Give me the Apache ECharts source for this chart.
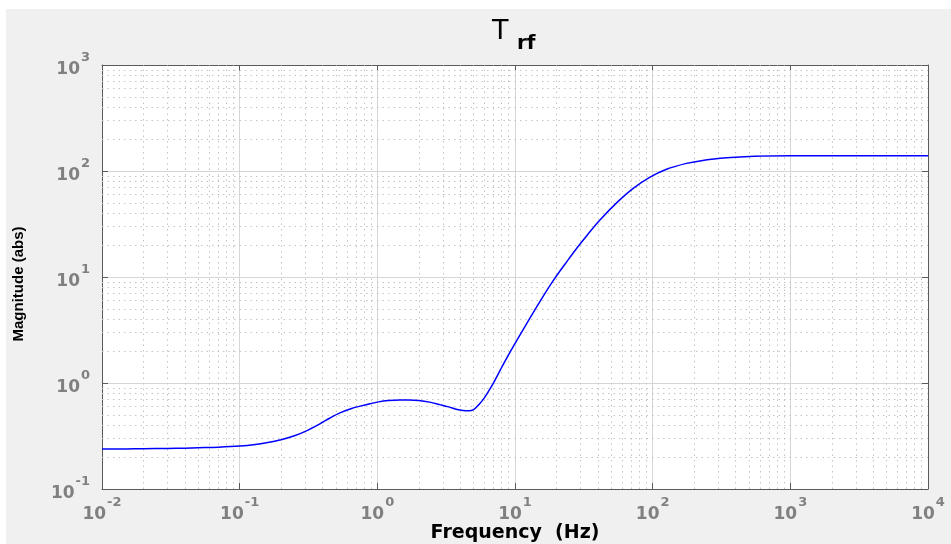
<!DOCTYPE html>
<html><head><meta charset="utf-8">
<script src="https://cdn.jsdelivr.net/npm/echarts@6/dist/echarts.min.js"></script>
<style>
html,body{margin:0;padding:0;background:#fff;}
#bg{position:absolute;left:6px;top:9px;width:945px;height:535px;background:#f0f0f0;}
#chart{position:absolute;left:0;top:0;width:951px;height:544px;}
</style></head><body>
<div id="bg"></div><div id="chart"></div>
<script>
const frequencyHz = [0.01, 0.015, 0.02, 0.03, 0.04, 0.05, 0.07, 0.1, 0.13, 0.16, 0.2, 0.25, 0.3, 0.38, 0.45, 0.53, 0.65, 0.75, 0.87, 1.0, 1.2, 1.45, 1.7, 2.0, 2.4, 2.85, 3.3, 3.8, 4.2, 4.6, 5.0, 5.4, 5.9, 6.4, 7.0, 8.2, 9.7, 12.1, 15.2, 18.9, 24.3, 28, 34, 41.4, 54.7, 72.2, 95, 126, 176, 220, 344, 550, 1000, 2000, 5000, 10000];
const magnitudeAbs = [0.238, 0.239, 0.240, 0.241, 0.243, 0.245, 0.248, 0.254, 0.263, 0.275, 0.292, 0.318, 0.35, 0.41, 0.465, 0.52, 0.575, 0.605, 0.635, 0.66, 0.683, 0.693, 0.693, 0.685, 0.66, 0.625, 0.595, 0.562, 0.55, 0.547, 0.56, 0.615, 0.705, 0.83, 1.01, 1.49, 2.2, 3.6, 5.9, 9.2, 14.5, 18.6, 25.5, 34.5, 50, 68.5, 87, 104, 118, 124.5, 133, 137.5, 139, 139, 139, 139];
const xTickExponents = [-2, -1, 0, 1, 2, 3, 4];
const yTickExponents = [-1, 0, 1, 2, 3];
const titleMain = 'T';
const titleSub = 'rf';
const xName = 'Frequency  (Hz)';
const yName = 'Magnitude (abs)';

function minorValues(exps) {
  const out = [];
  for (let i = 0; i < exps.length - 1; i++) {
    for (let k = 2; k <= 9; k++) out.push(Number((k * Math.pow(10, exps[i])).toPrecision(3)));
  }
  return out;
}
function powLabel(exps) {
  return function (v) {
    const e = Math.round(Math.log10(v));
    if (exps.indexOf(e) < 0) return '';
    return '{b|10}{e|' + e + '}';
  };
}
const labelRich = {
  b: { fontFamily: 'DejaVu Sans', fontWeight: 'bold', fontSize: 17, color: '#808080', lineHeight: 27, verticalAlign: 'bottom' },
  e: { fontFamily: 'DejaVu Sans', fontWeight: 'bold', fontSize: 13, color: '#808080', lineHeight: 13, verticalAlign: 'top', padding: [0, 0, 0, 1] }
};
const axisColor = '#5a5a5a';
const xMin = Math.pow(10, xTickExponents[0]), xMax = Math.pow(10, xTickExponents[xTickExponents.length - 1]);
const yMin = Math.pow(10, yTickExponents[0]), yMax = Math.pow(10, yTickExponents[yTickExponents.length - 1]);

const chart = echarts.init(document.getElementById('chart'));
chart.setOption({
  animation: false,
  backgroundColor: 'transparent',
  title: [{
    text: titleMain, left: 487, top: 13,
    textStyle: { fontFamily: 'DejaVu Sans', fontWeight: 'normal', fontSize: 27, color: '#000' }
  }, {
    text: titleSub, left: 512, top: 29,
    textStyle: { fontFamily: 'DejaVu Sans', fontWeight: 'bold', fontSize: 20, color: '#000' }
  }],
  grid: { left: 102, right: 23, top: 65, bottom: 55, show: true, backgroundColor: '#ffffff', borderWidth: 0, containLabel: false, outerBoundsMode: 'none' },
  xAxis: [{
    type: 'log', logBase: 10, min: xMin, max: xMax, splitNumber: 6,
    name: xName, nameLocation: 'middle', nameGap: 35, nameMoveOverlap: false,
    nameTextStyle: { fontFamily: 'DejaVu Sans', fontWeight: 'bold', fontSize: 19, color: '#000' },
    axisLine: { show: true, onZero: false, lineStyle: { color: axisColor, width: 1 } },
    axisTick: { show: true, inside: true, length: 6, lineStyle: { color: axisColor } },
    axisLabel: { margin: 7, formatter: powLabel(xTickExponents), rich: labelRich },
    splitLine: { show: true, lineStyle: { color: '#d6d6d6', width: 1 } }
  }, {
    type: 'log', logBase: 10, min: xMin, max: xMax, splitNumber: 6, position: 'top',
    axisLine: { show: true, onZero: false, lineStyle: { color: axisColor, width: 1 } },
    axisTick: { show: true, inside: true, length: 6, lineStyle: { color: axisColor } },
    axisLabel: { show: false }, splitLine: { show: false }
  }],
  yAxis: [{
    type: 'log', logBase: 10, min: yMin, max: yMax, splitNumber: 4,
    name: yName, nameLocation: 'middle', nameGap: 76, nameRotate: 90, nameMoveOverlap: false,
    nameTextStyle: { fontFamily: 'Liberation Sans', fontWeight: 'bold', fontSize: 15, color: '#000', padding: [0, 14, 0, 0] },
    axisLine: { show: true, onZero: false, lineStyle: { color: axisColor, width: 1 } },
    axisTick: { show: true, inside: true, length: 6, lineStyle: { color: axisColor } },
    axisLabel: { margin: 12, formatter: powLabel(yTickExponents), rich: labelRich },
    splitLine: { show: true, lineStyle: { color: '#d6d6d6', width: 1 } }
  }, {
    type: 'log', logBase: 10, min: yMin, max: yMax, splitNumber: 4, position: 'right',
    axisLine: { show: true, onZero: false, lineStyle: { color: axisColor, width: 1 } },
    axisTick: { show: true, inside: true, length: 6, lineStyle: { color: axisColor } },
    axisLabel: { show: false }, splitLine: { show: false }
  }],
  series: [{
    type: 'line', silent: true, z: 1,
    data: [[1, 1]], showSymbol: false, symbol: 'none', lineStyle: { opacity: 0 },
    markLine: {
      silent: true, symbol: 'none', label: { show: false },
      lineStyle: { color: '#c4c4c4', width: 1, type: [1.5, 4] },
      data: minorValues(xTickExponents).map(v => ({ xAxis: v }))
        .concat(minorValues(yTickExponents).map(v => ({ yAxis: v })))
    }
  }, {
    type: 'line', z: 5,
    data: frequencyHz.map((f, i) => [f, magnitudeAbs[i]]),
    showSymbol: false, symbol: 'none', smooth: 0.3,
    lineStyle: { color: '#0000ff', width: 1.5 }
  }]
});
</script>
</body></html>
